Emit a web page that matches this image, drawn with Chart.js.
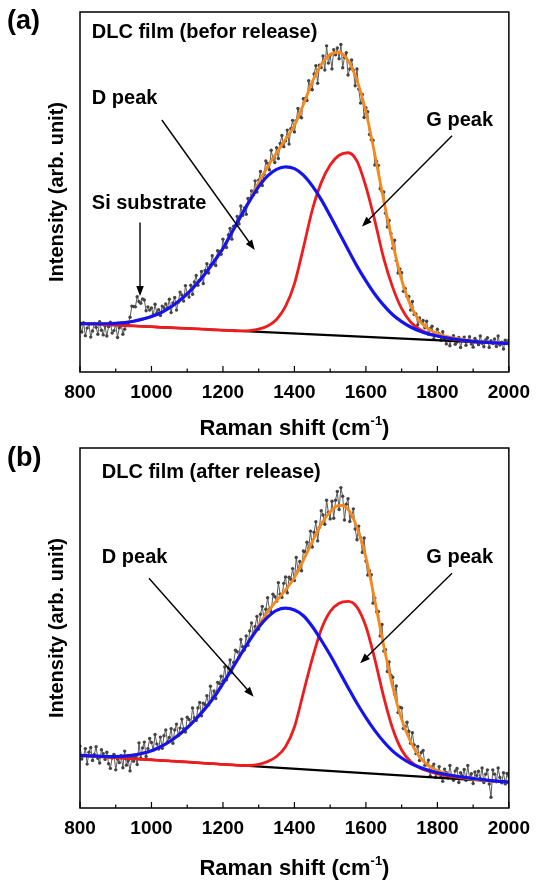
<!DOCTYPE html>
<html>
<head>
<meta charset="utf-8">
<script src="https://cdn.jsdelivr.net/npm/chart.js@4.4.1/dist/chart.umd.min.js"></script>
<style>
  html, body { margin: 0; padding: 0; background: #fff; }
  .panel { position: relative; width: 539px; height: 441px; }
</style>
</head>
<body>
<div class="panel"><canvas id="chartA" width="539" height="441"></canvas></div>
<div class="panel"><canvas id="chartB" width="539" height="441"></canvas></div>
<script>
// Raman shift axis
const X_MIN = 800, X_MAX = 2000;
const X_MAJOR = 200, X_MINOR = 100;

// measured spectra: one value every 5 cm-1 from 800 to 2000
const DATA_START = 800, DATA_STEP = 5;
// fitted curves: one value every 25 cm-1 from 800 to 2000
const FIT_START = 800, FIT_STEP = 25;
// linear background: values at 800 and 2000
const BASE_X = [800, 2000];

// ---- (a) DLC film before release ----
const rawA = [
  12.9, 11.1, 13.7, 10.1, 12.2, 13.2, 9.7, 11.4, 13.5, 12.4,
  10.5, 14.0, 11.6, 10.3, 12.8, 10.0, 12.6, 13.8, 10.8, 11.5,
  13.2, 9.6, 12.3, 13.4, 10.5, 11.9, 13.6, 13.5, 15.2, 18.3,
  18.2, 18.1, 20.9, 19.6, 19.1, 20.3, 20.0, 17.0, 18.1, 17.2,
  17.8, 15.9, 18.8, 16.4, 17.3, 15.7, 18.3, 17.8, 18.9, 17.8,
  20.2, 16.5, 19.2, 20.7, 17.2, 19.4, 22.2, 21.4, 19.7, 24.0,
  21.8, 20.8, 24.1, 21.6, 25.0, 26.8, 24.1, 25.5, 27.9, 24.6,
  28.2, 30.1, 27.5, 29.7, 32.3, 30.1, 29.6, 33.7, 33.5, 32.7,
  36.9, 34.9, 34.6, 38.1, 39.9, 36.9, 40.5, 40.5, 43.2, 41.1,
  46.1, 43.5, 45.6, 43.8, 48.2, 48.1, 50.3, 49.2, 53.1, 50.0,
  53.3, 55.7, 51.8, 54.9, 58.6, 57.9, 56.2, 61.6, 59.2, 58.2,
  62.3, 59.3, 63.5, 65.7, 62.6, 64.2, 67.2, 63.3, 67.6, 69.9,
  66.7, 69.8, 73.2, 70.9, 70.6, 75.9, 76.0, 75.4, 80.9, 78.6,
  78.4, 82.8, 85.1, 80.2, 85.2, 84.6, 87.8, 83.9, 90.6, 85.8,
  88.0, 84.2, 89.5, 88.1, 90.0, 87.0, 91.0, 84.5, 87.4, 88.7,
  82.5, 84.2, 86.7, 83.8, 79.5, 84.2, 78.6, 74.7, 77.1, 70.7,
  73.4, 72.3, 66.0, 64.5, 64.4, 57.5, 58.5, 57.4, 50.9, 50.2,
  50.0, 44.1, 40.3, 42.1, 38.5, 34.4, 36.6, 31.0, 27.5, 28.6,
  27.6, 22.4, 23.2, 21.0, 21.0, 17.2, 19.6, 16.0, 16.1, 13.1,
  15.0, 13.8, 14.3, 12.3, 14.1, 10.5, 12.0, 12.7, 9.2, 10.3,
  11.9, 10.6, 8.8, 11.2, 9.1, 7.8, 9.6, 7.3, 9.2, 10.1,
  7.7, 8.3, 9.6, 6.8, 8.9, 9.7, 7.4, 8.5, 9.8, 7.8,
  6.9, 9.3, 8.6, 7.6, 10.0, 8.0, 7.0, 8.9, 9.5, 6.8,
  8.7, 7.9, 9.2, 7.1, 10.0, 7.5, 8.3, 6.4, 8.8, 8.1,
  8.9
];
const dPeakA = [
  13.5, 13.4, 13.4, 13.4, 13.5, 13.7, 14.1, 14.7, 15.4, 16.4,
  17.8, 19.6, 21.7, 24.3, 27.3, 30.7, 34.3, 38.8, 43.3, 47.6,
  51.5, 54.5, 56.3, 57.0, 56.5, 54.7, 51.7, 47.9, 43.4, 38.7,
  34.0, 29.4, 25.3, 21.6, 18.5, 15.9, 14.0, 12.5, 11.4, 10.6,
  10.0, 9.5, 9.1, 8.8, 8.5, 8.3, 8.2, 8.0, 7.9
];
const gPeakA = [
  13.5, 13.4, 13.3, 13.1, 13.0, 12.9, 12.8, 12.7, 12.6, 12.4,
  12.3, 12.2, 12.1, 12.0, 11.9, 11.7, 11.6, 11.5, 11.4, 11.5,
  11.9, 12.8, 14.6, 18.2, 24.5, 34.5, 45.0, 52.6, 57.5, 60.2,
  60.9, 58.6, 51.5, 42.0, 31.5, 23.5, 17.6, 13.9, 11.9, 10.7,
  10.0, 9.4, 9.0, 8.7, 8.4, 8.3, 8.2, 8.0, 7.9
];
const fitA = [
  13.5, 13.4, 13.4, 13.4, 13.5, 13.7, 14.1, 14.7, 15.4, 16.4,
  17.8, 19.6, 21.7, 24.3, 27.3, 30.7, 34.3, 38.8, 43.3, 47.8,
  52.6, 57.0, 60.9, 64.6, 68.5, 74.3, 80.6, 85.4, 88.2, 88.8,
  86.5, 81.0, 72.3, 60.4, 47.6, 35.8, 25.6, 18.5, 14.2, 12.0,
  10.7, 9.9, 9.4, 9.0, 8.6, 8.4, 8.2, 8.0, 7.9
];
const baseA = [13.5, 7.9];

// ---- (b) DLC film after release ----
const rawB = [
  17.2, 13.6, 14.5, 16.5, 12.2, 15.5, 16.8, 13.2, 14.9, 17.0,
  13.8, 12.5, 16.2, 15.1, 13.5, 15.5, 12.3, 11.0, 13.9, 14.9,
  10.6, 13.6, 12.6, 14.5, 11.2, 15.8, 11.9, 13.2, 10.3, 14.1,
  13.0, 14.3, 12.1, 18.1, 13.9, 16.7, 18.3, 14.3, 16.5, 19.3,
  18.2, 16.1, 20.4, 17.8, 16.4, 19.7, 16.6, 20.1, 21.7, 18.4,
  19.6, 22.0, 18.0, 21.7, 23.3, 20.1, 22.2, 24.7, 22.0, 21.1,
  25.2, 24.6, 23.5, 27.8, 25.1, 24.3, 27.8, 29.3, 25.6, 29.1,
  28.7, 31.2, 28.6, 33.8, 30.6, 32.5, 30.4, 34.9, 34.6, 36.6,
  35.2, 39.2, 35.6, 38.9, 41.1, 37.6, 40.4, 43.8, 43.4, 41.9,
  46.8, 44.8, 43.9, 47.8, 45.2, 49.2, 51.4, 48.6, 50.4, 53.2,
  49.7, 53.8, 56.0, 52.5, 55.2, 58.4, 55.2, 54.4, 59.4, 58.7,
  57.4, 62.6, 59.4, 58.5, 62.4, 64.2, 59.8, 64.1, 63.5, 66.5,
  63.2, 69.6, 65.9, 68.5, 65.9, 71.4, 71.1, 73.8, 72.2, 76.9,
  72.5, 76.6, 79.5, 74.2, 78.0, 82.6, 81.4, 78.8, 85.5, 82.1,
  80.3, 85.2, 80.5, 85.5, 87.9, 82.9, 89.0, 86.6, 80.0, 84.4,
  85.9, 79.6, 81.1, 83.1, 77.5, 74.5, 78.3, 75.1, 71.0, 75.0,
  68.6, 64.7, 65.9, 64.8, 56.9, 58.3, 54.5, 54.6, 47.8, 51.0,
  43.6, 44.0, 37.9, 40.6, 36.9, 36.3, 31.7, 33.9, 26.5, 28.0,
  27.8, 22.1, 22.6, 23.8, 21.3, 18.0, 20.9, 17.5, 15.1, 17.1,
  13.2, 15.4, 16.0, 11.9, 12.0, 13.3, 8.9, 11.4, 12.2, 8.5,
  9.8, 11.5, 8.6, 7.4, 10.8, 9.8, 8.3, 11.8, 8.9, 7.7,
  10.3, 11.0, 7.1, 9.8, 8.9, 10.7, 7.7, 11.8, 8.3, 9.5,
  6.8, 10.0, 9.0, 10.2, 8.2, 11.1, 7.1, 9.4, 10.6, 6.7,
  3.0, 10.6, 9.4, 7.3, 11.1, 8.5, 7.0, 9.8, 6.7, 9.6,
  8.9
];
const dPeakB = [
  14.6, 14.5, 14.4, 14.3, 14.3, 14.4, 14.7, 15.2, 15.9, 17.0,
  18.4, 20.2, 22.3, 24.8, 27.6, 30.8, 34.6, 38.6, 42.7, 46.6,
  50.2, 53.0, 54.9, 55.5, 55.0, 53.4, 50.4, 46.6, 42.5, 38.0,
  33.5, 29.1, 25.1, 21.5, 18.4, 15.8, 13.9, 12.4, 11.3, 10.5,
  9.8, 9.3, 8.9, 8.5, 8.2, 7.9, 7.6, 7.4, 7.2
];
const gPeakB = [
  14.6, 14.4, 14.3, 14.1, 14.0, 13.8, 13.7, 13.5, 13.4, 13.2,
  13.1, 12.9, 12.8, 12.6, 12.4, 12.3, 12.1, 12.0, 11.8, 11.8,
  12.1, 12.9, 14.3, 17.0, 22.5, 32.0, 41.5, 49.6, 54.6, 56.9,
  57.4, 55.8, 50.4, 41.3, 30.8, 22.0, 16.1, 12.9, 11.2, 10.2,
  9.5, 9.0, 8.6, 8.3, 8.0, 7.8, 7.6, 7.4, 7.2
];
const fitB = [
  14.6, 14.5, 14.4, 14.3, 14.3, 14.4, 14.7, 15.2, 15.9, 17.0,
  18.4, 20.2, 22.3, 24.8, 27.6, 30.8, 34.6, 38.6, 42.7, 46.7,
  50.8, 54.4, 57.6, 60.6, 64.0, 68.8, 74.0, 78.8, 82.3, 84.1,
  83.0, 77.9, 69.6, 57.6, 45.0, 33.6, 24.6, 18.4, 14.2, 11.8,
  10.4, 9.5, 8.9, 8.4, 8.0, 7.7, 7.5, 7.3, 7.2
];
const baseB = [14.6, 7.2];

const FONT = "'Liberation Sans', Arial, sans-serif";

function toPoints(start, step, ys) {
  return ys.map((y, i) => ({ x: start + step * i, y: y }));
}

function drawArrow(ctx, x1, y1, x2, y2) {
  const ang = Math.atan2(y2 - y1, x2 - x1);
  const head = 10, half = 3.8;
  const c = Math.cos(ang), s = Math.sin(ang);
  ctx.beginPath();
  ctx.moveTo(x1, y1);
  ctx.lineTo(x2 - c * head * 0.7, y2 - s * head * 0.7);
  ctx.stroke();
  ctx.beginPath();
  ctx.moveTo(x2, y2);
  ctx.lineTo(x2 - c * head + s * half, y2 - s * head - c * half);
  ctx.lineTo(x2 - c * head - s * half, y2 - s * head + c * half);
  ctx.closePath();
  ctx.fill();
}

// frame, inward ticks, axis titles, panel tag, labels and arrows
const decorPlugin = {
  id: 'decor',
  afterDraw(chart, args, opts) {
    const { ctx, chartArea: a, scales: { x, y } } = chart;
    ctx.save();
    ctx.strokeStyle = '#000';
    ctx.fillStyle = '#000';

    ctx.lineWidth = 1.5;
    ctx.strokeRect(a.left, a.top, a.right - a.left, a.bottom - a.top);

    ctx.lineWidth = 1.2;
    for (let v = X_MIN; v <= X_MAX; v += X_MINOR) {
      const px = x.getPixelForValue(v);
      const len = (v - X_MIN) % X_MAJOR === 0 ? 6 : 3.5;
      ctx.beginPath();
      ctx.moveTo(px, a.bottom);
      ctx.lineTo(px, a.bottom - len);
      ctx.stroke();
    }

    // x title with superscript
    const tx = (a.left + a.right) / 2;
    const ty = a.bottom + opts.titleOffset;
    ctx.textBaseline = 'middle';
    ctx.font = 'bold 22px ' + FONT;
    const main = 'Raman shift (cm';
    const sup = '-1';
    const end = ')';
    const wMain = ctx.measureText(main).width;
    const wEnd = ctx.measureText(end).width;
    ctx.font = 'bold 13px ' + FONT;
    const wSup = ctx.measureText(sup).width;
    let cx = tx - (wMain + wSup + wEnd) / 2;
    ctx.textAlign = 'left';
    ctx.font = 'bold 22px ' + FONT;
    ctx.fillText(main, cx, ty);
    cx += wMain;
    ctx.font = 'bold 13px ' + FONT;
    ctx.fillText(sup, cx, ty - 8);
    cx += wSup;
    ctx.font = 'bold 22px ' + FONT;
    ctx.fillText(end, cx, ty);

    // y title
    ctx.save();
    ctx.translate(57, (a.top + a.bottom) / 2);
    ctx.rotate(-Math.PI / 2);
    ctx.textAlign = 'center';
    ctx.font = 'bold 20px ' + FONT;
    ctx.fillText('Intensity (arb. unit)', 0, 0);
    ctx.restore();

    // panel tag
    ctx.textAlign = 'left';
    ctx.font = 'bold 27px ' + FONT;
    ctx.fillText(opts.tag, 7, opts.tagY);

    // text labels in data units
    ctx.font = 'bold 20px ' + FONT;
    opts.labels.forEach(l => {
      ctx.fillText(l.text, x.getPixelForValue(l.x), y.getPixelForValue(l.y));
    });

    // arrows in data units
    ctx.lineWidth = 1.4;
    opts.arrows.forEach(ar => {
      drawArrow(ctx,
        x.getPixelForValue(ar[0]), y.getPixelForValue(ar[1]),
        x.getPixelForValue(ar[2]), y.getPixelForValue(ar[3]));
    });
    ctx.restore();
  }
};

function makePanel(canvasId, cfg) {
  const ctx = document.getElementById(canvasId).getContext('2d');
  const curve = (data, color, width, order) => ({
    data: data,
    borderColor: color,
    borderWidth: width,
    pointRadius: 0,
    cubicInterpolationMode: 'monotone',
    fill: false,
    order: order
  });

  new Chart(ctx, {
    type: 'line',
    data: {
      datasets: [
        curve(toPoints(FIT_START, FIT_STEP, cfg.dPeak), '#1414f0', 3.2, 0),
        curve(toPoints(FIT_START, FIT_STEP, cfg.fit), '#f7891c', 2.8, 1),
        curve(toPoints(FIT_START, FIT_STEP, cfg.gPeak), '#ee1c1c', 2.8, 2),
        {
          data: BASE_X.map((bx, i) => ({ x: bx, y: cfg.base[i] })),
          borderColor: '#000',
          borderWidth: 2.2,
          pointRadius: 0,
          order: 3
        },
        {
          data: toPoints(DATA_START, DATA_STEP, cfg.raw),
          borderColor: '#5a5a5a',
          borderWidth: 1,
          pointRadius: 1.7,
          pointBackgroundColor: '#444',
          pointBorderWidth: 0,
          tension: 0,
          order: 4
        }
      ]
    },
    options: {
      responsive: false,
      animation: false,
      events: [],
      layout: { padding: { left: 80, right: 23, top: cfg.top, bottom: 0 } },
      plugins: {
        legend: { display: false },
        tooltip: { enabled: false },
        decor: {
          tag: cfg.tag,
          tagY: cfg.tagY,
          titleOffset: cfg.titleOffset,
          labels: cfg.labels,
          arrows: cfg.arrows
        }
      },
      scales: {
        x: {
          type: 'linear',
          min: X_MIN,
          max: X_MAX,
          grid: { display: false, drawTicks: false },
          border: { display: false },
          ticks: {
            stepSize: X_MAJOR,
            padding: 9,
            color: '#000',
            font: { family: FONT, size: 19, weight: 'bold' },
            callback: v => String(v)
          },
          afterFit: s => { s.height = cfg.axisHeight; }
        },
        y: {
          display: false,
          min: 0,
          max: 100
        }
      }
    },
    plugins: [decorPlugin]
  });
}

makePanel('chartA', {
  raw: rawA, dPeak: dPeakA, gPeak: gPeakA, fit: fitA, base: baseA,
  top: 12, axisHeight: 69, titleOffset: 57,
  tag: '(a)', tagY: 22,
  labels: [
    { text: 'DLC film (befor release)', x: 833, y: 94.4 },
    { text: 'D peak', x: 833, y: 76.1 },
    { text: 'Si substrate', x: 833, y: 46.9 },
    { text: 'G peak', x: 1769, y: 70.0 }
  ],
  arrows: [
    [968, 41.5, 968, 21.1],
    [1029, 70.0, 1289, 33.9],
    [1841, 65.6, 1589, 40.4]
  ]
});

makePanel('chartB', {
  raw: rawB, dPeak: dPeakB, gPeak: gPeakB, fit: fitB, base: baseB,
  top: 7, axisHeight: 74, titleOffset: 61,
  tag: '(b)', tagY: 18,
  labels: [
    { text: 'DLC film (after release)', x: 861, y: 93.3 },
    { text: 'D peak', x: 861, y: 69.7 },
    { text: 'G peak', x: 1769, y: 69.7 }
  ],
  arrows: [
    [993, 63.8, 1286, 30.9],
    [1841, 65.2, 1584, 40.2]
  ]
});
</script>
</body>
</html>
